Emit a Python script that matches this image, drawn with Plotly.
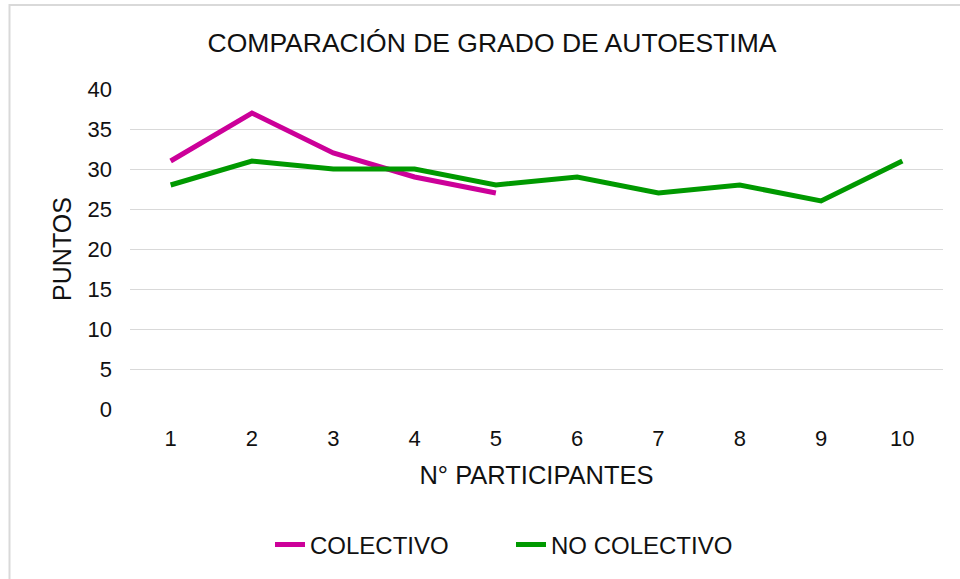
import plotly.graph_objects as go

participantes = [1, 2, 3, 4, 5, 6, 7, 8, 9, 10]
colectivo = [31, 37, 32, 29, 27]
no_colectivo = [28, 31, 30, 30, 28, 29, 27, 28, 26, 31]
y_ticks = [0, 5, 10, 15, 20, 25, 30, 35, 40]

FONT = "Liberation Sans, Arial, sans-serif"
TXT = "#111111"

W, H = 960, 579
L, R, T, B = 130, 17, 89, 170
pw, ph = W - L - R, H - T - B

def px_x(rx):
    return (rx - L) / pw

def px_y(ry):
    return (H - B - ry) / ph

fig = go.Figure()
fig.add_trace(go.Scatter(
    x=participantes[:len(colectivo)], y=colectivo, mode="lines", name="COLECTIVO",
    line=dict(color="#CC0099", width=5)))
fig.add_trace(go.Scatter(
    x=participantes, y=no_colectivo, mode="lines", name="NO COLECTIVO",
    line=dict(color="#009900", width=5)))

fig.update_layout(
    width=W, height=H,
    margin=dict(l=L, r=R, t=T, b=B),
    paper_bgcolor="white", plot_bgcolor="white",
    font=dict(family=FONT, color=TXT, size=22),
    title=dict(text="COMPARACIÓN DE GRADO DE AUTOESTIMA", x=492 / W, xanchor="center",
               y=1 - 43 / H, yanchor="middle", font=dict(size=26.5, color=TXT)),
    xaxis=dict(range=[0.5, 10.5], tickvals=participantes, ticktext=[str(p) for p in participantes],
               showgrid=False, zeroline=False, showline=False, ticks="",
               ticklabelstandoff=14,
               title=dict(text="N° PARTICIPANTES", font=dict(size=25.5), standoff=16),
               tickfont=dict(size=22)),
    yaxis=dict(range=[0, 40], tickvals=y_ticks, showgrid=True, gridcolor="#D9D9D9", gridwidth=1.3,
               zeroline=False, showline=False, ticks="", ticklabelstandoff=17,
               title=dict(text="PUNTOS", font=dict(size=25), standoff=8),
               tickfont=dict(size=22)),
    legend=dict(orientation="h", x=px_x(270), xanchor="left", y=px_y(545), yanchor="middle",
                font=dict(size=24), entrywidth=196, entrywidthmode="pixels",
                traceorder="normal", bgcolor="rgba(0,0,0,0)"),
    shapes=[dict(type="rect", xref="paper", yref="paper",
                 x0=px_x(9.5), x1=px_x(975), y0=px_y(595), y1=px_y(5),
                 line=dict(color="#D9D9D9", width=2), fillcolor="rgba(0,0,0,0)", layer="below")],
)

fig.write_html("out.html", config={"displayModeBar": False},
               post_script="document.body.style.margin='0';")
